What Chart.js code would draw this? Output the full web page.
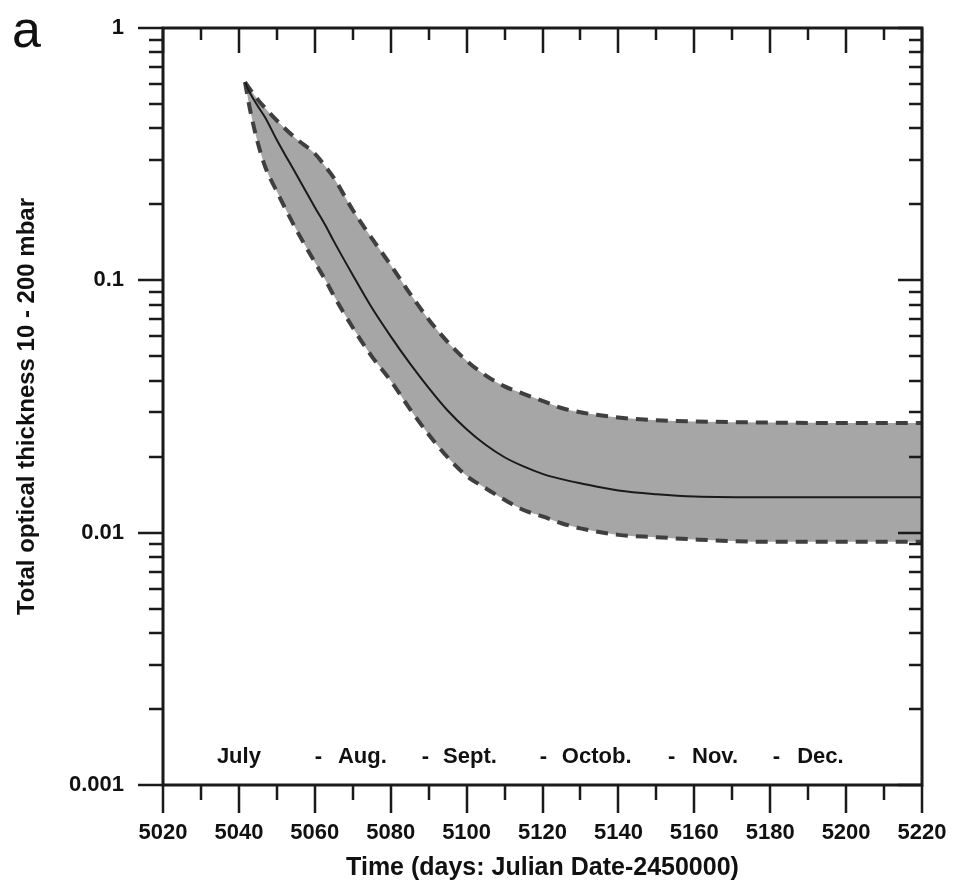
<!DOCTYPE html>
<html><head><meta charset="utf-8">
<script src="https://cdn.jsdelivr.net/npm/chart.js@4/dist/chart.umd.min.js"></script>
<style>html,body{margin:0;padding:0;background:#fff;}canvas{display:block}</style>
</head><body>
<canvas id="c" width="956" height="883"></canvas>
<script>
// ---- data ----
const days = [5041.6, 5043, 5045, 5047, 5050, 5055, 5060, 5063, 5065, 5070, 5075, 5080, 5085, 5090, 5095, 5100, 5105, 5110, 5115, 5120, 5125, 5130, 5140, 5150, 5160, 5180, 5200, 5220];
const centerValues = [0.61, 0.55, 0.49, 0.44, 0.36, 0.265, 0.195, 0.163, 0.143, 0.105, 0.078, 0.060, 0.047, 0.0375, 0.0305, 0.0257, 0.0223, 0.0199, 0.0183, 0.0171, 0.0163, 0.0157, 0.0147, 0.0142, 0.0139, 0.0138, 0.0138, 0.0138];
const upperValues = [0.61, 0.57, 0.52, 0.48, 0.43, 0.365, 0.318, 0.28, 0.255, 0.19, 0.147, 0.115, 0.089, 0.070, 0.057, 0.048, 0.042, 0.038, 0.0355, 0.0333, 0.0312, 0.0300, 0.0286, 0.0279, 0.0276, 0.0273, 0.0272, 0.0272];
const lowerValues = [0.61, 0.47, 0.35, 0.28, 0.225, 0.16, 0.118, 0.099, 0.087, 0.065, 0.050, 0.040, 0.031, 0.0245, 0.0199, 0.0168, 0.0150, 0.0135, 0.0123, 0.0116, 0.0109, 0.0104, 0.0098, 0.0096, 0.0094, 0.0092, 0.0092, 0.0092];
const xTickValues = [5020, 5040, 5060, 5080, 5100, 5120, 5140, 5160, 5180, 5200, 5220];
const yTickValues = [0.001, 0.01, 0.1, 1];
const monthNames = ['July', 'Aug.', 'Sept.', 'Octob.', 'Nov.', 'Dec.'];
const monthWordDays = [5034.2, 5066.1, 5093.8, 5125.1, 5159.4, 5187.1];
const monthDashDays = [5060.0, 5088.2, 5119.3, 5153.1, 5180.7];
const panelLabel = 'a';
const xTitle = 'Time (days: Julian Date-2450000)';
const yTitle = 'Total optical thickness 10 - 200 mbar';

const FONT = '"Liberation Sans", Arial, Helvetica, sans-serif';
const pts = vals => days.map((d, i) => ({x: d, y: vals[i]}));

const framePlugin = {
  id: 'frame',
  afterDraw(chart) {
    const {ctx, chartArea: a, scales: {x, y}} = chart;
    ctx.save();
    ctx.strokeStyle = '#1a1a1a';
    ctx.lineWidth = 2.5;
    ctx.beginPath();
    for (let d = x.min; d <= x.max + 1e-9; d += 10) {
      const px = Math.round(x.getPixelForValue(d));
      const major = Math.round(d - x.min) % 20 === 0;
      ctx.moveTo(px, a.bottom); ctx.lineTo(px, a.bottom + (major ? 28 : 15));
      ctx.moveTo(px, a.top); ctx.lineTo(px, a.top + (major ? 25 : 12));
    }
    for (let e = -3; e <= 0; e++) {
      for (let m = 1; m <= 9; m++) {
        const v = m * Math.pow(10, e);
        if (v > 1.0000001) break;
        const py = Math.round(y.getPixelForValue(v));
        const major = m === 1;
        ctx.moveTo(a.left - (major ? 25 : 14), py); ctx.lineTo(a.left, py);
        ctx.moveTo(a.right - (major ? 24 : 13), py); ctx.lineTo(a.right, py);
      }
    }
    ctx.stroke();
    ctx.lineWidth = 3;
    ctx.strokeRect(a.left, a.top, a.right - a.left, a.bottom - a.top);
    ctx.fillStyle = '#111';
    ctx.font = 'bold 22px ' + FONT;
    ctx.textAlign = 'left';
    ctx.textBaseline = 'alphabetic';
    const by = a.bottom - 22;
    monthNames.forEach((t, i) => ctx.fillText(t, x.getPixelForValue(monthWordDays[i]), by));
    monthDashDays.forEach(d => ctx.fillText('-', x.getPixelForValue(d), by));
    ctx.font = '52px ' + FONT;
    ctx.fillText(panelLabel, 12, 47);
    ctx.restore();
  }
};

new Chart(document.getElementById('c'), {
  type: 'line',
  data: {
    datasets: [
      {label: 'center', data: pts(centerValues), borderColor: '#1a1a1a', borderWidth: 2, pointRadius: 0, fill: false, cubicInterpolationMode: 'monotone'},
      {label: 'upper', data: pts(upperValues), borderColor: '#3f3f3f', borderWidth: 4, borderDash: [12, 8], pointRadius: 0, fill: '+1', backgroundColor: '#a6a6a6', cubicInterpolationMode: 'monotone'},
      {label: 'lower', data: pts(lowerValues), borderColor: '#3f3f3f', borderWidth: 4, borderDash: [12, 8], pointRadius: 0, fill: false, cubicInterpolationMode: 'monotone'}
    ]
  },
  options: {
    responsive: false,
    animation: false,
    devicePixelRatio: 1,
    layout: {padding: {left: 0, top: 28, right: 34, bottom: 0}},
    plugins: {legend: {display: false}, tooltip: {enabled: false}, filler: {drawTime: 'beforeDatasetsDraw'}},
    scales: {
      x: {
        type: 'linear', min: 5020, max: 5220,
        afterBuildTicks: s => { s.ticks = xTickValues.map(v => ({value: v})); },
        afterFit: s => { s.height = 98; },
        grid: {display: true, drawOnChartArea: false, drawTicks: true, tickLength: 28, tickColor: 'rgba(0,0,0,0)'},
        border: {display: false},
        ticks: {autoSkip: false, maxRotation: 0, padding: 7, color: '#111', font: {family: FONT, size: 22, weight: 'bold'}, callback: v => String(v)},
        title: {display: true, text: xTitle, color: '#111', font: {family: FONT, size: 25, weight: 'bold'}, padding: {top: 0, bottom: 0}}
      },
      y: {
        type: 'logarithmic', min: 0.001, max: 1,
        afterBuildTicks: s => { s.ticks = yTickValues.map(v => ({value: v, major: true})); },
        afterFit: s => { s.width = 163; },
        grid: {display: true, drawOnChartArea: false, drawTicks: true, tickLength: 25, tickColor: 'rgba(0,0,0,0)'},
        border: {display: false},
        ticks: {autoSkip: false, padding: 14, color: '#111', font: {family: FONT, size: 22, weight: 'bold'}, callback: v => String(v)},
        title: {display: true, text: yTitle, color: '#111', font: {family: FONT, size: 24, weight: 'bold'}, padding: {top: 13, bottom: 0}}
      }
    }
  },
  plugins: [framePlugin]
});
</script>
</body></html>
